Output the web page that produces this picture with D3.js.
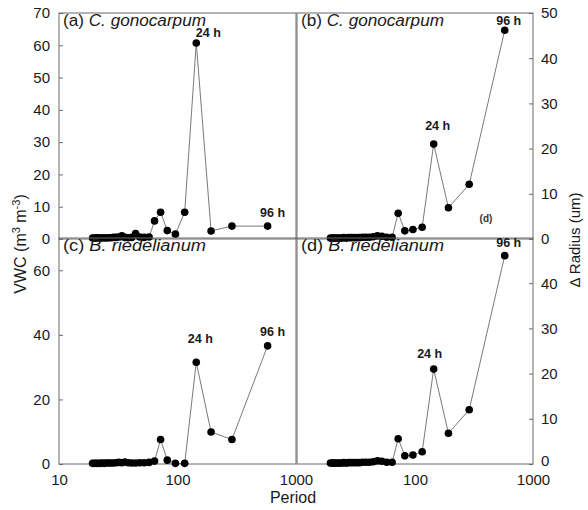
<!DOCTYPE html>
<html><head><meta charset="utf-8">
<script src="https://cdn.jsdelivr.net/npm/d3@7"></script>
<style>
html,body{margin:0;padding:0;background:#fff;}
svg{display:block;font-family:"Liberation Sans",Arial,sans-serif;}
</style></head>
<body><svg id="c" width="588" height="510"></svg>
<script>
// ---- data ----
const periods = [19.2, 19.9, 20.6, 21.3, 22.2, 23, 24, 25, 26.2, 27.4, 28.8, 30.3, 32, 33.9, 36, 38.4, 41.1, 44.3, 48, 52.4, 57.6, 64, 72, 82, 96, 115, 144, 192, 288, 576];
// (a) C. gonocarpum VWC
const vwcGono = [0.3,0.3,0.3,0.4,0.3,0.3,0.4,0.3,0.4,0.4,0.5,0.5,0.6,1.0,0.5,0.4,0.5,1.7,0.6,0.5,0.6, 5.6, 8.3, 2.6, 1.5, 8.3, 60.7, 2.5, 4.0, 4.0];
// (b) C. gonocarpum radius
const radGono = [0.2,0.2,0.2,0.2,0.2,0.2,0.2,0.3,0.2,0.3,0.3,0.3,0.3,0.3,0.4,0.4,0.4,0.5,0.7,0.6,0.4,0.4, 5.7, 1.8, 2.1, 2.6, 21.0, 6.9, 12.1, 46.2];
// (c) B. riedelianum VWC
const vwcRied = [0.2,0.2,0.2,0.2,0.2,0.3,0.2,0.3,0.3,0.3,0.3,0.4,0.5,0.4,0.6,0.4,0.3,0.3,0.4,0.4,0.5,0.9, 7.6, 1.2, 0.2, 0.2, 31.5, 9.9, 7.6, 36.6];
// (d) B. riedelianum radius
const radRied = [0.2,0.2,0.2,0.2,0.2,0.2,0.2,0.3,0.2,0.3,0.3,0.3,0.3,0.3,0.4,0.4,0.4,0.5,0.7,0.6,0.4,0.4, 5.6, 1.8, 2.0, 2.7, 21.0, 6.8, 12.0, 46.1];

const vwcTicksTop = [0,10,20,30,40,50,60,70];
const vwcTicksBottom = [0,20,40,60];
const radTicksTop = [0,10,20,30,40,50];
const radTicksBottom = [0,10,20,30,40];
const xTicksLeft = [10,100,1000];
const xTicksRight = [100,1000];

const panels = [
  {id:"(a)", sp:"C. gonocarpum", vals:vwcGono, side:"L", row:0},
  {id:"(b)", sp:"C. gonocarpum", vals:radGono, side:"R", row:0},
  {id:"(c)", sp:"B. riedelianum", vals:vwcRied, side:"L", row:1},
  {id:"(d)", sp:"B. riedelianum", vals:radRied, side:"R", row:1}
];
// label offsets (dx, dy) relative to the labelled point
const labelOffsets = {
  "(a)": {i24:[12,-6], i96:[5,-9]},
  "(b)": {i24:[4,-14], i96:[4,-5]},
  "(c)": {i24:[4,-19], i96:[5,-10]},
  "(d)": {i24:[-4,-11], i96:[4,-9]}
};

const svg = d3.select("#c");
const xL = d3.scaleLog().domain([10,1000]).range([59,296]);
const xR = d3.scaleLog().domain([10,1000]).range([297,533]);
const yRows = [[239,13],[464,238]];
const lineCol = "#6a6a6a", txtCol = "#1a1a1a";

panels.forEach(p => {
  const x = p.side === "L" ? xL : xR;
  const y = d3.scaleLinear().domain(p.side === "L" ? [0,70] : [0,50]).range(yRows[p.row]);
  const g = svg.append("g");
  const [x0,x1] = x.range(), [yb,yt] = y.range();
  const tv = p.side === "L" ? (p.row===0 ? vwcTicksTop : vwcTicksBottom) : (p.row===0 ? radTicksTop : radTicksBottom);
  const axL = d3.axisLeft(y).tickValues(p.side==="L"? tv : []).tickSize(-4).tickPadding(9).tickFormat(d3.format("d"));
  const axR = d3.axisRight(y).tickValues(p.side==="R"? tv : []).tickSize(-4).tickPadding(8).tickFormat(d3.format("d"));
  const ga = g.append("g").attr("transform",`translate(${x0},0)`).call(axL);
  const gb = g.append("g").attr("transform",`translate(${x1},0)`).call(axR);
  if (p.row===1) {
    const ax = d3.axisBottom(x).tickValues(p.side==="L"? xTicksLeft : xTicksRight).tickSize(0).tickPadding(10).tickFormat(d3.format("d"));
    const gx = g.append("g").attr("transform",`translate(0,${yb})`).call(ax);
    gx.select(".domain").remove();
    gx.selectAll("text").attr("font-size",15).attr("fill",txtCol);
    // right-side "0" sits slightly higher to clear the "1000" label
    if (p.side==="R") gb.selectAll(".tick").filter(d=>d===0).select("text").attr("dy","0.1em");
  }
  [ga,gb].forEach(a=>{a.select(".domain").remove();a.selectAll("line").attr("stroke",lineCol);a.selectAll("text").attr("font-size",15).attr("fill",txtCol);});
  g.append("rect").attr("x",x0).attr("y",yt).attr("width",x1-x0).attr("height",yb-yt)
    .attr("fill","none").attr("stroke",lineCol).attr("stroke-width",1);

  const pts = periods.map((d,i)=>[d,p.vals[i]]);
  g.append("path").datum(pts)
    .attr("d", d3.line().x(d=>x(d[0])).y(d=>y(d[1])))
    .attr("fill","none").attr("stroke","#7a7a7a").attr("stroke-width",1);
  g.selectAll("circle").data(pts).join("circle")
    .attr("cx",d=>x(d[0])).attr("cy",d=>y(d[1])).attr("r",3.8).attr("fill","#000");

  // title
  const t = g.append("text").attr("x",x0+4).attr("y",yt+13).attr("font-size",16).attr("fill",txtCol)
    .attr("textLength",143).attr("lengthAdjust","spacingAndGlyphs");
  t.append("tspan").text(p.id+" ");
  t.append("tspan").attr("font-style","italic").text(p.sp);

  // 24 h / 96 h labels
  const i24 = periods.indexOf(144), i96 = periods.indexOf(576);
  const off = labelOffsets[p.id];
  [[i24,"24 h",off.i24],[i96,"96 h",off.i96]].forEach(([i,s,o])=>{
    g.append("text").attr("x",x(periods[i])+o[0]).attr("y",y(p.vals[i])+o[1])
      .attr("text-anchor","middle").attr("font-size",12.5).attr("font-weight","bold").attr("fill",txtCol).text(s);
  });
});

// stray "(d)" mark present on the scan
svg.append("text").attr("x",486).attr("y",222).attr("text-anchor","middle")
  .attr("font-size",10).attr("font-weight","bold").attr("fill","#333").text("(d)");

// axis titles
const yl = svg.append("text").attr("transform","translate(26,244) rotate(-90)")
  .attr("text-anchor","middle").attr("font-size",16).attr("fill",txtCol);
yl.append("tspan").text("VWC (m");
yl.append("tspan").attr("font-size",11).attr("dy",-6).text("3");
yl.append("tspan").attr("dy",6).text(" m");
yl.append("tspan").attr("font-size",11).attr("dy",-6).text("-3");
yl.append("tspan").attr("dy",6).text(")");

svg.append("text").attr("transform","translate(580,240) rotate(-90)")
  .attr("text-anchor","middle").attr("font-size",15).attr("fill",txtCol).text("Δ Radius (um)");

svg.append("text").attr("x",293).attr("y",503).attr("text-anchor","middle")
  .attr("font-size",16).attr("fill",txtCol).text("Period");
</script>
</body></html>
